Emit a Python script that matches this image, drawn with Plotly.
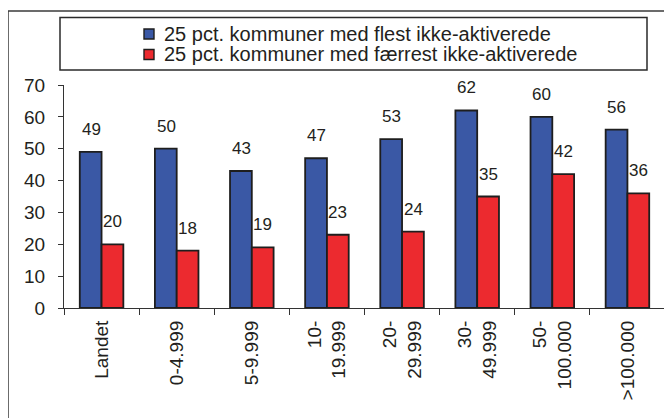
import plotly.graph_objects as go

# Data
categories = ["Landet", "0-4.999", "5-9.999", "10-<br>19.999", "20-<br>29.999",
              "30-<br>49.999", "50-<br>100.000", ">100.000"]
flest = [49, 50, 43, 47, 53, 62, 60, 56]
faerrest = [20, 18, 19, 23, 24, 35, 42, 36]
names = ["25 pct. kommuner med flest ikke-aktiverede",
         "25 pct. kommuner med færrest ikke-aktiverede"]

W, H = 672, 418
OFF = 8  # page body margin: figure pixel p shows at p + 8

# plot area in screen pixels: x 64..665, y 85..308
ML, MT = 64 - OFF, 85 - OFF
MR, MB = W - (665 - OFF), H - (308 - OFF)
PW, PH = W - ML - MR, H - MT - MB

def px_x(p):
    return (p - OFF - ML) / PW

def px_y(p):
    return 1 - (p - OFF - MT) / PH

FONT = "Liberation Sans, Arial, Helvetica, sans-serif"
INK = "#231f20"
BLUE = "#3a58a5"
RED = "#ec2a2f"
colors = [BLUE, RED]

fig = go.Figure()

fig.add_trace(go.Bar(
    x=categories, y=flest, name=names[0], showlegend=False,
    marker=dict(color=BLUE, line=dict(color="#1e1e1e", width=1.8))
))
fig.add_trace(go.Bar(
    x=categories, y=faerrest, name=names[1], showlegend=False,
    marker=dict(color=RED, line=dict(color="#1e1e1e", width=1.8))
))

# value labels above bars
annotations = []
for cat, v in zip(categories, flest):
    annotations.append(dict(x=cat, y=v, text=str(v), showarrow=False,
                            xshift=-10.5, yshift=11, yanchor="bottom",
                            font=dict(size=17, color=INK, family=FONT)))
for cat, v in zip(categories, faerrest):
    annotations.append(dict(x=cat, y=v, text=str(v), showarrow=False,
                            xshift=11, yshift=11, yanchor="bottom",
                            font=dict(size=17, color=INK, family=FONT)))

shapes = [
    # outer frame (cut off at right and bottom)
    dict(type="line", xref="paper", yref="paper",
         x0=px_x(8), x1=px_x(W + 10), y0=px_y(11), y1=px_y(11),
         line=dict(color="#3a3a3a", width=1.5)),
    dict(type="line", xref="paper", yref="paper",
         x0=px_x(8), x1=px_x(8), y0=px_y(11), y1=px_y(H + 10),
         line=dict(color="#3a3a3a", width=1.5)),
    # legend box
    dict(type="rect", xref="paper", yref="paper",
         x0=px_x(60), x1=px_x(647), y0=px_y(17.5), y1=px_y(70),
         line=dict(color="#2a2a2a", width=1.5)),
]

# legend rows
row_y = [34, 54.5]
for name, col, yc in zip(names, colors, row_y):
    shapes.append(dict(type="rect", xref="paper", yref="paper",
                       x0=px_x(144), x1=px_x(154),
                       y0=px_y(yc - 5), y1=px_y(yc + 5),
                       fillcolor=col, line=dict(color="#1e1e1e", width=1.4)))
    annotations.append(dict(xref="paper", yref="paper",
                            x=px_x(162), y=px_y(yc), text=name,
                            xanchor="left", yanchor="middle", showarrow=False,
                            font=dict(size=20, color=INK, family=FONT)))

fig.update_layout(
    width=W, height=H,
    margin=dict(l=ML, r=MR, t=MT, b=MB, autoexpand=False),
    paper_bgcolor="white", plot_bgcolor="white",
    font=dict(family=FONT, color=INK),
    barmode="group", bargap=0.42, bargroupgap=0,
    showlegend=False,
    xaxis=dict(showline=True, linecolor="#333", linewidth=1.2,
               ticks="outside", ticklen=6, tickcolor="#333",
               tickson="boundaries", tickangle=-90, automargin=False,
               tickfont=dict(size=19, family=FONT, color=INK),
               ticklabelstandoff=4, showgrid=False),
    yaxis=dict(range=[0, 70], dtick=10, showline=True, linecolor="#333",
               linewidth=1.2, ticks="outside", ticklen=5, tickcolor="#333",
               tickfont=dict(size=19, family=FONT, color=INK),
               ticklabelstandoff=9,
               automargin=False, showgrid=False, zeroline=False),
    annotations=annotations,
    shapes=shapes,
)

fig.write_html("out.html")
